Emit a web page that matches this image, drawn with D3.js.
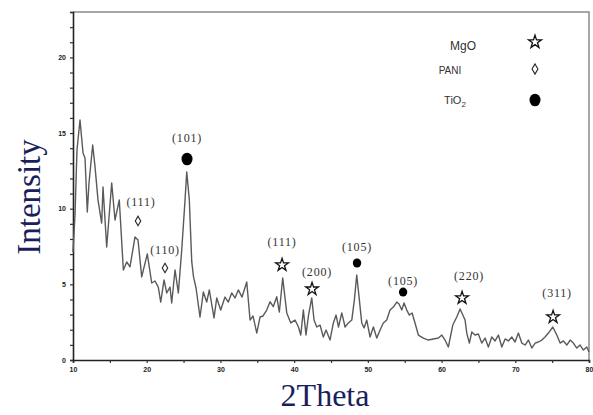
<!DOCTYPE html>
<html><head><meta charset="utf-8">
<script src="https://cdn.jsdelivr.net/npm/d3@7"></script>
<style>body{margin:0;background:#fff}svg{display:block}</style>
</head><body>
<svg id="c" width="593" height="415"></svg>
<script>
// 2Theta positions (degrees)
const twoTheta = [10.00,10.27,10.54,10.95,11.36,11.63,11.94,12.17,12.67,12.99,13.39,13.89,14.07,14.57,15.25,15.70,16.28,16.83,17.29,17.73,18.41,18.82,19.32,20.08,20.68,21.13,21.57,21.90,22.35,22.71,23.16,23.39,23.84,24.29,24.75,25.20,25.43,25.78,26.11,26.35,26.69,27.23,27.68,28.14,28.49,29.13,29.50,30.04,30.62,31.07,31.53,31.98,32.43,32.93,33.57,34.02,34.42,34.93,35.37,35.78,36.28,36.73,37.17,37.64,37.99,38.45,39.00,39.54,40.12,40.57,40.90,41.25,41.61,41.95,42.39,42.70,43.07,43.51,43.96,44.33,44.87,45.32,45.69,46.02,46.46,46.91,47.35,47.82,48.17,48.49,48.81,49.17,49.49,49.85,50.30,50.75,51.21,51.66,52.10,52.56,53.01,53.46,53.92,54.23,54.60,54.91,55.28,55.63,56.00,56.40,56.85,57.53,58.21,58.89,59.57,60.03,60.47,60.92,61.52,62.06,62.51,62.88,63.19,63.42,63.77,64.10,64.54,64.99,65.45,65.90,66.35,66.81,67.26,67.71,68.17,68.62,69.06,69.52,69.97,70.42,70.88,71.33,71.78,72.24,72.69,73.13,73.60,74.04,74.49,75.09,75.63,76.08,76.53,76.99,77.44,77.88,78.34,78.79,79.24,79.70,80.00];
// Intensity values
const intensity = [7.14,9.58,13.88,15.86,13.68,13.35,9.78,11.70,14.21,12.76,10.58,9.05,11.43,7.47,11.70,9.25,10.58,5.95,6.48,6.15,8.13,7.93,5.49,7.01,5.09,5.22,4.82,3.83,5.29,4.43,4.82,3.77,5.95,4.43,7.27,10.58,12.43,10.58,6.48,5.49,4.76,2.84,4.49,3.83,4.63,2.78,4.10,3.30,4.16,3.83,4.43,4.10,4.63,4.16,5.16,2.64,2.91,1.78,2.84,2.91,3.30,3.85,3.52,4.18,3.17,5.42,3.11,2.45,2.64,2.20,1.65,3.30,1.65,2.97,4.10,2.64,2.18,2.31,1.52,1.98,1.32,2.45,2.97,2.18,3.11,2.18,2.45,2.64,3.97,5.62,4.16,2.45,2.12,2.64,1.52,2.18,1.45,1.98,2.45,2.64,3.30,3.50,3.83,3.70,3.30,3.77,3.30,2.97,3.11,2.45,1.65,1.45,1.32,1.39,1.45,1.65,1.32,0.86,2.31,2.84,3.37,2.97,2.64,1.78,1.12,1.85,1.65,1.72,1.12,1.45,0.86,1.52,1.26,1.65,0.86,1.39,1.26,1.52,1.19,1.78,1.12,0.99,1.32,0.79,1.12,1.19,1.32,1.52,1.78,2.18,1.65,1.12,1.26,0.99,1.32,1.12,0.79,0.99,0.66,0.86,0.53];

const xTickValues = [10,20,30,40,50,60,70,80];
const yTickValues = [0,5,10,15,20];

// Peak annotations
const peakLabels = ["(111)","(110)","(101)","(111)","(200)","(105)","(105)","(220)","(311)"];
const peakPhase  = ["PANI","PANI","TiO2","MgO","MgO","TiO2","TiO2","MgO","MgO"];
const peakX      = [18.82,22.48,25.47,38.36,42.43,48.53,54.78,62.78,75.13];
const peakY      = [9.19,6.08,13.28,6.28,4.69,6.41,4.49,4.10,2.84];

const legendNames = ["MgO","PANI","TiO2"];

const svg = d3.select("#c");
const W = 593, H = 415;
const m = {l:73, t:12, r:4, b:55};
const x = d3.scaleLinear().domain([10,80]).range([m.l, W - m.r]);
const y = d3.scaleLinear().domain([0,23]).range([H - m.b, m.t]);

// frame (top & right)
svg.append("path")
  .attr("d", `M${x(10)},${y(23)}H${x(80)}V${y(0)}`)
  .attr("fill","none").attr("stroke","#8a8a8a").attr("stroke-width",1.5);

// axes
const xAx = svg.append("g").attr("transform",`translate(0,${y(0)})`);
xAx.call(d3.axisBottom(x).tickValues(d3.range(10,81,5)).tickSize(3).tickFormat(d => xTickValues.includes(d) ? d : ""));
const yAx = svg.append("g").attr("transform",`translate(${x(10)},0)`);
yAx.call(d3.axisLeft(y).tickValues(d3.range(0,24,1)).tickSize(3).tickFormat(d => yTickValues.includes(d) ? d : ""));
[xAx,yAx].forEach(g=>{
  g.select(".domain").attr("stroke","#222").attr("stroke-width",1.6);
  g.selectAll(".tick line").attr("stroke","#333").attr("stroke-width",1.2);
  g.selectAll(".tick text").attr("font-family","Arial, Liberation Sans, sans-serif")
    .attr("font-size",7).attr("font-weight","bold").attr("fill","#222");
});
xAx.selectAll(".tick text").attr("dy","0.9em");
yAx.selectAll(".tick text").attr("dx","-1");

// data line
const line = d3.line().x((d,i)=>x(twoTheta[i])).y(d=>y(d));
svg.append("path").datum(intensity)
  .attr("d", line)
  .attr("fill","none").attr("stroke","#5a5a5a").attr("stroke-width",1.4)
  .attr("stroke-linejoin","round");

// markers
function marker(sel, phase, big){
  if (phase === "MgO") {
    sel.append("path").attr("d", d3.symbol(d3.symbolStar, big ? 52 : 50)())
      .attr("fill","#fff").attr("stroke","#111").attr("stroke-width",1.3);
  } else if (phase === "PANI") {
    sel.append("path").attr("d", d3.symbol(d3.symbolDiamond, big ? 30 : 26)())
      .attr("fill","#fff").attr("stroke","#222").attr("stroke-width",1.1);
  } else {
    sel.append("ellipse").attr("rx", big ? 5.5 : 4.2).attr("ry", big ? 6.3 : 4.5).attr("fill","#000");
  }
}

const ann = svg.append("g");
peakLabels.forEach((lab,i)=>{
  const g = ann.append("g").attr("transform",`translate(${x(peakX[i])},${y(peakY[i])})`);
  marker(g, peakPhase[i], i===2);
  const dxs = [3,0,0,0,5,0,0,7,4];
  const dys = [-15,-14,-17,-19,-13,-12,-7,-18,-20];
  g.append("text").text(lab)
    .attr("x", dxs[i]).attr("y", dys[i])
    .attr("text-anchor","middle")
    .attr("font-family","Liberation Serif, Times New Roman, serif")
    .attr("font-size",12).attr("letter-spacing",0.8).attr("fill","#333");
});

// legend
const lg = svg.append("g");
const legY = [46,70,100];
const legX = [463,450,455];
const legSize = [12,10,11];
legendNames.forEach((n,i)=>{
  const t = lg.append("text").attr("x",legX[i]).attr("y",legY[i]+4)
    .attr("text-anchor","middle")
    .attr("font-family","Arial, Liberation Sans, sans-serif")
    .attr("font-size",legSize[i]).attr("fill","#333");
  if (n === "TiO2") {
    t.append("tspan").text("TiO");
    t.append("tspan").text("2").attr("font-size",8).attr("dy",3);
  } else t.text(n);
  const g = lg.append("g").attr("transform",`translate(535,${[42,69,100][i]})`);
  marker(g, n, true);
});

// axis titles
svg.append("text").text("2Theta")
  .attr("x",325).attr("y",406).attr("text-anchor","middle")
  .attr("font-family","Liberation Serif, Times New Roman, serif")
  .attr("font-size",32).attr("fill","#1a1f5c");
svg.append("text").text("Intensity")
  .attr("transform","translate(40,197) rotate(-90)").attr("text-anchor","middle")
  .attr("font-family","Liberation Serif, Times New Roman, serif")
  .attr("font-size",33).attr("fill","#1a1f5c");
</script>
</body></html>
